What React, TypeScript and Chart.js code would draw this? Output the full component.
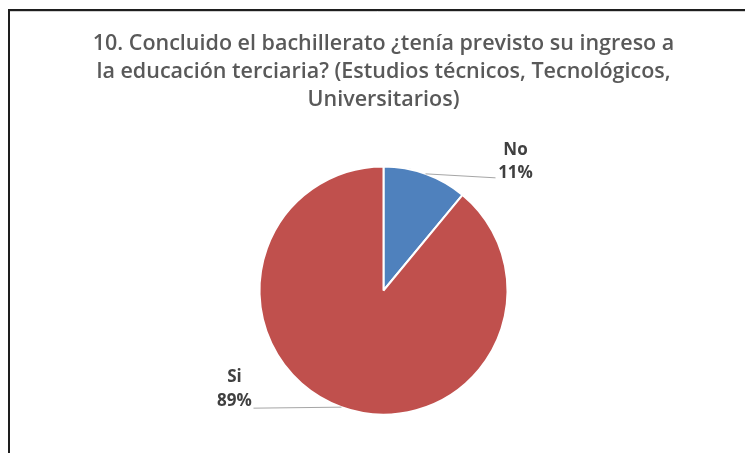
import React, { useEffect, useRef } from "react";
import { Chart, registerables } from "chart.js";

Chart.register(...registerables);

const titleLines = [
  "10. Concluido el bachillerato ¿tenía previsto su ingreso a",
  "la educación terciaria? (Estudios técnicos, Tecnológicos,",
  "Universitarios)",
];
const categories = ["No", "Si"];
const values = [11, 89];
const sliceColors = ["#4F81BD", "#C0504D"];
// label offsets (style): [lineEndDx, lineEndDy, nameDy, pctDy]
const leaderOffsets = [
  [70, 4, -28, -5],
  [-88, 1, -31, -7],
];

const framePlugin = {
  id: "frame",
  beforeDraw(chart: any) {
    const { ctx, width, height } = chart;
    ctx.save();
    ctx.fillStyle = "#ffffff";
    ctx.fillRect(0, 0, width, height);
    ctx.strokeStyle = "#d0d0d0";
    ctx.lineWidth = 1;
    ctx.beginPath();
    ctx.moveTo(10, 11.5);
    ctx.lineTo(width, 11.5);
    ctx.stroke();
    ctx.strokeStyle = "#1e1e1e";
    ctx.lineWidth = 2;
    ctx.beginPath();
    ctx.moveTo(9, height);
    ctx.lineTo(9, 10);
    ctx.lineTo(width, 10);
    ctx.stroke();
    ctx.restore();
  },
};

const labelPlugin = {
  id: "pieLabels",
  afterDatasetsDraw(chart: any) {
    const { ctx } = chart;
    const meta = chart.getDatasetMeta(0);
    const data = chart.data.datasets[0].data as number[];
    const total = data.reduce((a, b) => a + b, 0);
    ctx.save();
    meta.data.forEach((arc: any, i: number) => {
      const { x, y, startAngle, endAngle, outerRadius } = arc.getProps(
        ["x", "y", "startAngle", "endAngle", "outerRadius"],
        true
      );
      const mid = (startAngle + endAngle) / 2;
      const px = x + Math.cos(mid) * outerRadius;
      const py = y + Math.sin(mid) * outerRadius;
      const [dx, dy, nDy, pDy] = leaderOffsets[i];
      const ex = px + dx;
      const ey = py + dy;
      ctx.strokeStyle = "#a6a6a6";
      ctx.lineWidth = 1;
      ctx.beginPath();
      ctx.moveTo(px, py);
      ctx.lineTo(ex, ey);
      ctx.stroke();
      const pct = Math.round((data[i] / total) * 100) + "%";
      ctx.fillStyle = "#404040";
      ctx.font = "bold 17px 'Open Sans', sans-serif";
      ctx.textAlign = "center";
      ctx.textBaseline = "middle";
      const tx = dx > 0 ? ex + 20 : ex - 19;
      ctx.fillText(String(chart.data.labels[i]), tx, ey + nDy);
      ctx.fillText(pct, tx, ey + pDy);
    });
    ctx.restore();
  },
};

export default function App() {
  const ref = useRef<HTMLCanvasElement>(null);
  useEffect(() => {
    if (!ref.current) return;
    const chart = new Chart(ref.current, {
      type: "pie",
      data: {
        labels: categories,
        datasets: [
          {
            data: values,
            backgroundColor: sliceColors,
            borderColor: "#ffffff",
            borderWidth: 2,
          },
        ],
      },
      options: {
        responsive: false,
        animation: false,
        devicePixelRatio: 1,
        layout: { padding: { left: 22, right: 0, top: 0, bottom: 37.5 } },
        plugins: {
          legend: { display: false },
          tooltip: { enabled: false },
          title: {
            display: true,
            text: titleLines,
            color: "#595959",
            font: { family: "'Open Sans', sans-serif", size: 21.5, weight: "600", lineHeight: "28px" as any },
            padding: { top: 30, bottom: 51.5 },
          },
        },
      },
      plugins: [framePlugin, labelPlugin],
    });
    return () => chart.destroy();
  }, []);
  return (
    <div style={{ position: "absolute", left: 0, top: 0, width: 745, height: 453 }}>
      <canvas ref={ref} width={745} height={453} style={{ display: "block" }} />
    </div>
  );
}
